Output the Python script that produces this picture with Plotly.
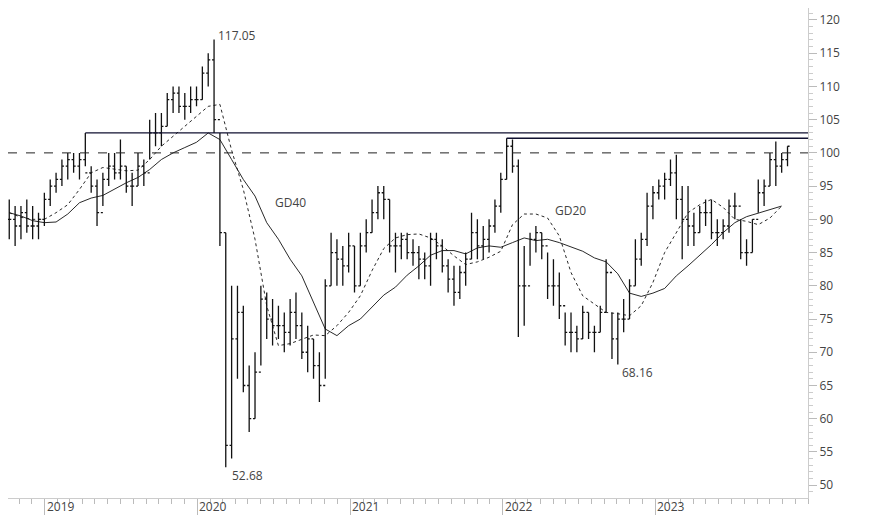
import pandas as pd
import plotly.graph_objects as go

# bi-weekly bars
start = "2018-10-08"
highs = [93, 92, 92, 93, 92, 91, 94, 96, 97, 99, 100, 100, 100, 103, 98, 96, 97, 100, 100, 102,
         98, 97, 100, 99, 105, 106, 106, 109, 110, 110, 109, 110, 110, 113, 115, 117.05, 103, 88, 80, 80,
         77, 68, 70, 80, 79, 78, 77, 76, 78, 79, 76, 74, 72, 70, 81, 88, 87, 86, 88, 86,
         88, 90, 93, 95, 95, 93, 88, 88, 88, 87, 86, 85, 88, 88, 87, 84, 83, 83, 85, 91,
         90, 89, 90, 93, 97, 102.2, 102, 99, 86, 88, 89, 88, 85, 84, 82, 76, 76, 74, 77, 76,
         74, 77, 84, 76, 76, 78, 81, 87, 88, 94, 95, 96, 97, 99, 99.7, 95, 95, 91, 92, 93,
         93, 90, 90, 93, 94, 90, 87, 90, 96, 96, 100, 101.7, 100, 101]
lows = [87, 86, 87, 88, 87, 87, 89, 92, 94, 95, 96, 97, 96, 98, 94, 89, 92, 95, 96, 96,
        94, 92, 95, 95, 99, 101, 101, 104, 106, 106, 105, 106, 107, 108, 110, 103, 86, 52.68, 54, 66,
        64, 58, 60, 68, 72, 71, 72, 70, 71, 72, 69, 67, 66, 62.5, 66, 80, 80, 80, 82, 79,
        80, 85, 88, 90, 90, 85, 82, 84, 84, 83, 81, 81, 80, 84, 82, 79, 77, 78, 80, 84,
        84, 84, 85, 88, 91, 96, 97, 72.3, 74, 83, 85, 84, 78, 77, 75, 71, 70, 70, 72, 72,
        70, 73, 76, 69, 68.16, 73, 75, 80, 83, 86, 90, 93, 93, 95, 90, 84, 86, 86, 88, 89,
        87, 86, 87, 88, 90, 84, 83, 85, 91, 92, 95, 95, 97, 98]
closes = [90, 89, 91, 89, 89, 90, 93, 95, 96, 98, 99, 98, 99, 97, 95, 91, 96, 98, 97, 98,
          95, 95, 98, 97, 103, 103, 104, 108, 109, 107, 107, 108, 108, 112, 114, 105, 88, 56, 72, 76,
          65, 60, 67, 78, 75, 74, 74, 73, 76, 74, 70, 72, 68, 65, 80, 85, 84, 83, 86, 80,
          86, 88, 91, 94, 93, 86, 86, 87, 85, 85, 84, 83, 87, 86, 83, 81, 79, 82, 84, 88,
          86, 87, 89, 92, 96, 101, 98, 80, 80, 87, 88, 86, 80, 80, 77, 73, 73, 72, 76, 73,
          73, 76, 82, 72, 75, 75, 80, 84, 87, 92, 94, 95, 96, 97, 93, 90, 89, 88, 91, 91,
          88, 88, 89, 92, 92, 85, 85, 90, 94, 95, 99, 98, 99, 101]
opens = [closes[0]] + closes[:-1]

# moving averages, sampled every second bar
gd20 = [91, 90.3, 90, 90, 91, 92.2, 94.5, 97, 97.8, 97.6, 97.3, 97.4, 99, 101, 102.5, 104, 105.5, 107,
        107.3, 100.4, 94.5, 87, 77, 71, 71.3, 72, 72.6, 72.5, 74, 76, 78.5, 82.3, 85.6, 87.2, 87.7,
        87.8, 87.2, 86, 84.5, 83.2, 83.6, 84.3, 85.2, 89.2, 90.8, 90.8, 90.2, 87.5, 82, 78.5, 77.2,
        76, 75.8, 75.5, 77, 80.5, 85, 88, 91, 92.2, 93, 91.8, 90, 89.7, 89.2, 90.2, 92]
gd40 = [91, 90.5, 89.8, 89.5, 89.6, 90.8, 92.5, 93.2, 93.6, 94.6, 95.5, 96.3, 97.5, 99, 100, 100.8,
        101.6, 103, 102, 99, 96, 93.5, 89.5, 87, 84, 81.5, 77.5, 73.5, 72.5, 74, 75, 76.8, 78.6, 79.8,
        81.6, 83, 84.6, 85.3, 85.3, 84.8, 85.7, 86, 85.8, 86.5, 87.2, 86.8, 87, 86.5, 85.8, 85.2, 84.2,
        83.6, 81.8, 78.9, 78.4, 78.9, 79.6, 81.5, 83, 84.6, 86.2, 88, 89.5, 90.4, 90.9, 91.4, 92]

# horizontal lines: (start bar, level)
res_lines = [(13, 103), (85, 102.2)]
dashed_level = 100

dates = pd.date_range(start, periods=len(closes), freq="14D")
ma_dates = dates[::2]
x_end = pd.Timestamp("2024-01-01")
x_start = pd.Timestamp("2018-10-05")

fig = go.Figure()
fig.add_trace(go.Ohlc(
    x=dates, open=opens, high=highs, low=lows, close=closes,
    increasing_line_color="#111", decreasing_line_color="#111",
    line_width=1.3, tickwidth=0.35, showlegend=False, hoverinfo="skip"))
fig.add_trace(go.Scatter(x=ma_dates, y=gd20, mode="lines",
                         line=dict(color="#111", width=0.9, dash="dot"), showlegend=False))
fig.add_trace(go.Scatter(x=ma_dates, y=gd40, mode="lines",
                         line=dict(color="#111", width=0.9), showlegend=False))

for idx, lvl in res_lines:
    fig.add_shape(type="line", x0=dates[idx], x1=x_end, y0=lvl, y1=lvl,
                  line=dict(color="#101030", width=1.3))
fig.add_shape(type="line", x0=x_start, x1=x_end, y0=dashed_level, y1=dashed_level,
              line=dict(color="#222", width=1, dash="dash"))

txt = dict(size=12, color="#444", family="Open Sans")
labels = [(dates[35], 117.05, "117.05", 2, 3), (dates[37], 52.68, "52.68", 4, 0),
          (dates[104], 68.16, "68.16", 2, 2)]
for d, v, t, dx, dy in labels:
    fig.add_annotation(x=d, y=v, text=t, showarrow=False, xanchor="left", yanchor="middle",
                       xshift=dx, yshift=-8 if v < 90 else 4, font=txt)
fig.add_annotation(x=dates[45], y=92.5, text="GD40", showarrow=False,
                   xanchor="left", font=txt)
fig.add_annotation(x=dates[93], y=91.3, text="GD20", showarrow=False,
                   xanchor="left", font=txt)

for yr in range(2019, 2024):
    fig.add_annotation(x=pd.Timestamp(f"{yr}-01-01"), y=0, yref="paper", text=str(yr),
                       showarrow=False, xanchor="left", yanchor="top", xshift=1, yshift=1,
                       borderpad=0, font=dict(size=12, color="#444", family="Open Sans"))

fig.update_layout(
    width=874, height=515, margin=dict(l=0, r=74, t=0, b=25),
    plot_bgcolor="white", paper_bgcolor="white",
    xaxis=dict(range=[x_start, x_end], rangeslider_visible=False, showgrid=False,
               showticklabels=False, showline=True, linecolor="#ccc",
               ticks="outside", tickvals=[pd.Timestamp(f"{y}-01-01") for y in range(2019, 2024)],
               ticklen=18, tickcolor="#bbb",
               minor=dict(dtick="M1", tick0="2018-01-01", ticks="outside", ticklen=5, tickcolor="#bbb")),
    yaxis=dict(side="right", range=[48.07, 121.8], showgrid=False, zeroline=False,
               tickvals=list(range(50, 121, 5)), ticks="outside", ticklen=8, tickcolor="#bbb",
               showline=True, linecolor="#ccc",
               tickfont=dict(size=12, color="#444", family="Open Sans"),
               minor=dict(dtick=1, ticks="outside", ticklen=4, tickcolor="#ccc")),
)

fig.write_html("out.html")
